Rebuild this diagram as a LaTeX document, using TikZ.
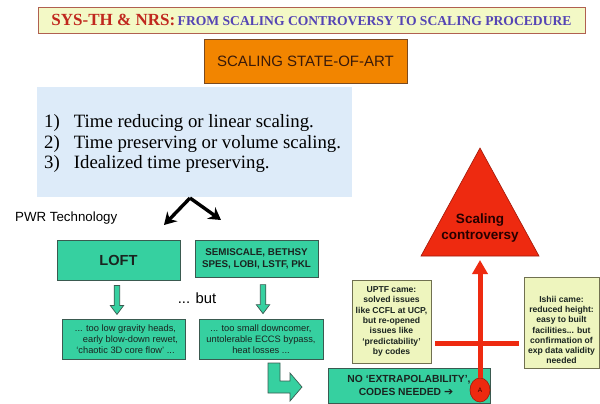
\documentclass[tikz,border=0pt]{standalone}
\usepackage{fontspec}
\setmainfont{Liberation Serif}
\setsansfont{Liberation Sans}
\newfontfamily\dejavu{DejaVu Sans}
\usetikzlibrary{arrows.meta,calc,shapes.geometric}
\definecolor{titlefill}{HTML}{F3F9C6}
\definecolor{titleedge}{HTML}{B06050}
\definecolor{titlered}{HTML}{C0281E}
\definecolor{titleblue}{HTML}{5444B4}
\definecolor{orangefill}{HTML}{F28500}
\definecolor{orangeedge}{HTML}{7A4A20}
\definecolor{orangetext}{HTML}{3A1A0A}
\definecolor{bluefill}{HTML}{DDEBF9}
\definecolor{tealfill}{HTML}{36D0A0}
\definecolor{tealedge}{HTML}{3A5A50}
\definecolor{yellowfill}{HTML}{EEF5BE}
\definecolor{yellowedge}{HTML}{707050}
\definecolor{redfill}{HTML}{EE2A10}
\definecolor{rededge}{HTML}{A01808}
\definecolor{darktext}{HTML}{1A2420}
\begin{document}
\begin{tikzpicture}[x=1pt,y=-1pt,
  boxbase/.style={rectangle, inner sep=0pt, align=center},
  tealbox/.style={boxbase, draw=tealedge, fill=tealfill, line width=0.8pt, text=darktext},
  yellowbox/.style={boxbase, draw=yellowedge, fill=yellowfill, line width=0.8pt, text=darktext},
  smalltxt/.style={align=center, inner sep=0pt, text=darktext, font=\sffamily\fontsize{8.8}{10.3}\selectfont},
  blockarrow/.style={draw=tealedge, fill=tealfill, line width=0.7pt},
  blackarrow/.style={line width=3.4pt, -{Stealth[length=12pt,width=14pt]}},
  redline/.style={draw=redfill, line width=5pt}
]
\useasboundingbox (0,0) rectangle (600,404);
\fill[white] (0,0) rectangle (600,404);

% title
\node[boxbase, draw=titleedge, fill=titlefill, line width=0.8pt,
  minimum width=547pt, minimum height=26pt] (title) at (311.5,20)
  {{\fontsize{17}{17}\selectfont\bfseries\color{titlered}SYS-TH \& NRS:} {\fontsize{13.6}{16}\selectfont\bfseries\color{titleblue}FROM SCALING CONTROVERSY TO SCALING PROCEDURE}};

% orange
\node[boxbase, draw=orangeedge, fill=orangefill, line width=0.8pt,
  minimum width=203pt, minimum height=44pt, text=orangetext,
  font=\sffamily\fontsize{15}{15}\selectfont] (state) at (305.5,61) {SCALING STATE-OF-ART};

% blue list
\node[boxbase, fill=bluefill, minimum width=315pt, minimum height=110pt] (list) at (194.5,142) {};
\node[anchor=west, inner sep=0pt, font=\fontsize{18.8}{20.5}\selectfont] (listtxt) at (44,144)
  {\begin{tabular}{@{}l@{\hspace{14pt}}l@{}}
   1) & Time reducing or linear scaling.\\
   2) & Time preserving or volume scaling.\\
   3) & Idealized time preserving.
   \end{tabular}};

% black split arrows
\coordinate (split) at (190,198);
\coordinate (splitL) at (164,225);
\coordinate (splitR) at (221,220);
\draw[blackarrow, line join=miter] (split) -- (splitL);
\draw[blackarrow] (split) -- (splitR);

\node[anchor=west, inner sep=0pt, font=\sffamily\fontsize{13.3}{15}\selectfont] (pwr) at (15,218) {PWR Technology};

% teal boxes
\node[tealbox, minimum width=123pt, minimum height=40pt, font=\sffamily\bfseries\fontsize{14.6}{16}\selectfont] (loft) at (118.5,260) {LOFT};
\node[tealbox, minimum width=123pt, minimum height=37pt, font=\sffamily\bfseries\fontsize{9.8}{12}\selectfont] (semi) at (256.5,258.5) {SEMISCALE, BETHSY\\SPES, LOBI, LSTF, PKL};

\node[tealbox, minimum width=123pt, minimum height=40pt, font=\sffamily\fontsize{9.3}{10.8}\selectfont] (gravity) at (123.5,339)
  {\hspace*{4pt}... too low gravity heads,\\\hspace*{14pt}early blow-down rewet,\\\hspace*{4pt}‘chaotic 3D core flow’ ...};
\node[tealbox, minimum width=124pt, minimum height=40pt, font=\sffamily\fontsize{9.3}{10.8}\selectfont] (downc) at (261,339)
  {... too small downcomer,\\untolerable ECCS bypass,\\heat losses ...};

\node[inner sep=0pt, font=\sffamily\fontsize{14.8}{16}\selectfont] (but) at (197,298) {... but};

% block arrows down
\draw[blockarrow] ($(loft.south)+(-4.3,5)$) -- ++(5.5,0) -- ++(0,20) -- ++(4,0)
  -- ++(-6.75,9) -- ++(-6.75,-9) -- ++(4,0) -- cycle;
\draw[blockarrow] ($(downc.north)+(-0.75,-34)$) -- ++(5.5,0) -- ++(0,20) -- ++(4,0)
  -- ++(-6.75,9) -- ++(-6.75,-9) -- ++(4,0) -- cycle;

% L-shaped arrow
\draw[blockarrow] (268,363) -- (280,363) -- (280,381) -- (290,381) -- (290,373)
  -- (302,387) -- (290,401) -- (290,393) -- (268,393) -- cycle;

% no extrapolability
\node[tealbox, minimum width=162pt, minimum height=35pt, font=\sffamily\bfseries\fontsize{10.3}{12.4}\selectfont] (noext) at (409,385.5)
  {NO ‘EXTRAPOLABILITY’,\\CODES NEEDED {\dejavu\fontsize{11}{10}\selectfont ➔}\hspace*{6pt}};

% yellow boxes
\node[yellowbox, minimum width=79pt, minimum height=83pt, font=\sffamily\bfseries\fontsize{8.6}{10.3}\selectfont] (uptf) at (391.5,321.5)
  {UPTF came:\\solved issues\\like CCFL at UCP,\\but re-opened\\issues like\\‘predictability’\\by codes};
\node[yellowbox, minimum width=75pt, minimum height=91pt] (ishii) at (561.5,322.5) {};
\node[smalltxt, font=\sffamily\bfseries\fontsize{8.6}{10.2}\selectfont] (ishiitxt) at (561.5,330)
  {Ishii came:\\reduced height:\\easy to built\\facilities... but\\confirmation of\\exp data validity\\needed};

% triangle
\coordinate (apex) at (480,148);
\coordinate (baseL) at (421,256);
\coordinate (baseR) at (539,256);
\fill[redfill, draw=rededge, line width=0.6pt] (apex) -- (baseR) -- (baseL) -- cycle;
\node[inner sep=0pt, align=center, text=black!85!red, font=\sffamily\bfseries\fontsize{13.5}{16}\selectfont] (tri) at (480,228) {Scaling\\controversy};
\coordinate (tribase) at (480,260);

% red cross lines
\coordinate (hL) at (435,343);
\coordinate (hR) at (519,343);
\draw[redline] (hL) -- (hR);

\node[ellipse, draw=rededge, fill=redfill, line width=0.6pt, inner sep=0pt, minimum width=20pt, minimum height=24pt,
  font=\sffamily\fontsize{6.5}{6.5}\selectfont, text=black!80!red] (circA) at (480,390) {A};
\draw[redline, -{Triangle[width=15pt,length=14pt]}] (circA.north) -- (tribase);
\end{tikzpicture}
\end{document}
